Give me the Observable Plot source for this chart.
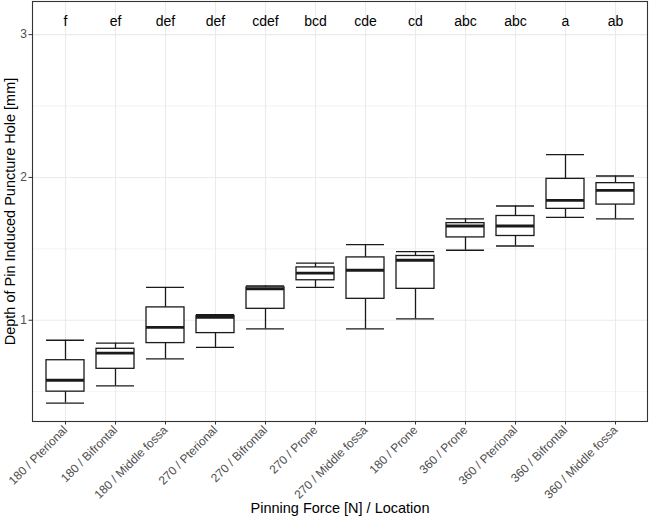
<!DOCTYPE html>
<html>
<head>
<meta charset="utf-8">
<script src="https://cdn.jsdelivr.net/npm/d3@7"></script>
<script src="https://cdn.jsdelivr.net/npm/@observablehq/plot@0.6"></script>
<style>
  body { margin: 0; background: #fff; }
  #chart svg { display: block; }
</style>
</head>
<body>
<div id="chart"></div>
<script>
const groups = ["180 / Pterional", "180 / Bifrontal", "180 / Middle fossa", "270 / Pterional", "270 / Bifrontal", "270 / Prone", "270 / Middle fossa", "180 / Prone", "360 / Prone", "360 / Pterional", "360 / Bifrontal", "360 / Middle fossa"];
const lowerWhisker = [0.42, 0.54, 0.73, 0.81, 0.94, 1.23, 0.94, 1.01, 1.49, 1.52, 1.72, 1.71];
const q1 = [0.50, 0.66, 0.84, 0.91, 1.08, 1.28, 1.15, 1.22, 1.58, 1.59, 1.78, 1.81];
const median = [0.58, 0.77, 0.95, 1.02, 1.22, 1.33, 1.35, 1.42, 1.66, 1.66, 1.84, 1.91];
const q3 = [0.72, 0.80, 1.09, 1.03, 1.23, 1.37, 1.44, 1.45, 1.68, 1.73, 1.99, 1.96];
const upperWhisker = [0.86, 0.84, 1.23, 1.04, 1.24, 1.40, 1.53, 1.48, 1.71, 1.80, 2.16, 2.01];
const letters = ["f", "ef", "def", "def", "cdef", "bcd", "cde", "cd", "abc", "abc", "a", "ab"];
const yTicks = [1, 2, 3];
const yMinor = [0.5, 1.5, 2.5];

const data = groups.map((g, i) => ({
  group: g, lo: lowerWhisker[i], q1: q1[i], med: median[i], q3: q3[i], hi: upperWhisker[i], letter: letters[i]
}));

const font = "'Liberation Sans', Arial, Helvetica, sans-serif";

const chart = Plot.plot({
  width: 649,
  height: 520,
  marginLeft: 32,
  marginRight: 2,
  marginTop: 1,
  marginBottom: 99,
  style: { fontFamily: font, background: "#fff" },
  x: {
    domain: groups,
    paddingInner: 0.25,
    paddingOuter: 0.225,
    align: 0.5,
    label: null,
    axis: null
  },
  y: {
    domain: [0.291, 3.232],
    label: null,
    axis: null
  },
  marks: [
    // minor grid
    Plot.ruleY(yMinor, { stroke: "#ebebeb", strokeWidth: 0.6 }),
    // major grid
    Plot.ruleY(yTicks, { stroke: "#ebebeb", strokeWidth: 1.1 }),
    Plot.ruleX(groups, { x: d => d, stroke: "#ebebeb", strokeWidth: 1.1 }),
    // whiskers
    Plot.ruleX(data, { x: "group", y1: "q3", y2: "hi", stroke: "#1a1a1a", strokeWidth: 1.3 }),
    Plot.ruleX(data, { x: "group", y1: "lo", y2: "q1", stroke: "#1a1a1a", strokeWidth: 1.3 }),
    Plot.tickY(data, { x: "group", y: "hi", stroke: "#1a1a1a", strokeWidth: 1.3 }),
    Plot.tickY(data, { x: "group", y: "lo", stroke: "#1a1a1a", strokeWidth: 1.3 }),
    // boxes
    Plot.barY(data, { x: "group", y1: "q1", y2: "q3", fill: "white", stroke: "#1a1a1a", strokeWidth: 1.3 }),
    // medians
    Plot.tickY(data, { x: "group", y: "med", stroke: "#1a1a1a", strokeWidth: 2.8 }),
    // letters
    Plot.text(data, { x: "group", y: () => 3.1, text: "letter", fontSize: 14, fill: "#000", dy: 1 }),
    // panel border
    Plot.frame({ stroke: "#333333", strokeWidth: 1.1 }),
    // axes
    Plot.axisY(yTicks, { tickSize: 3.5, tickPadding: 2, fontSize: 12, fill: "#4d4d4d", stroke: "#333333", label: null, tickFormat: d => String(d) }),
    Plot.axisX({ tickSize: 3.5, tickPadding: 3, tickRotate: -45, fontSize: 12, fill: "#4d4d4d", stroke: "#333333", label: null }),
    // axis titles
    Plot.text(["Pinning Force [N] / Location"], { frameAnchor: "bottom", dy: 91, fontSize: 14.5, fill: "#000" }),
    Plot.text(["Depth of Pin Induced Puncture Hole [mm]"], { frameAnchor: "left", textAnchor: "middle", dx: -22, rotate: -90, fontSize: 14.5, fill: "#000" })
  ]
});

document.getElementById("chart").appendChild(chart);
</script>
</body>
</html>
